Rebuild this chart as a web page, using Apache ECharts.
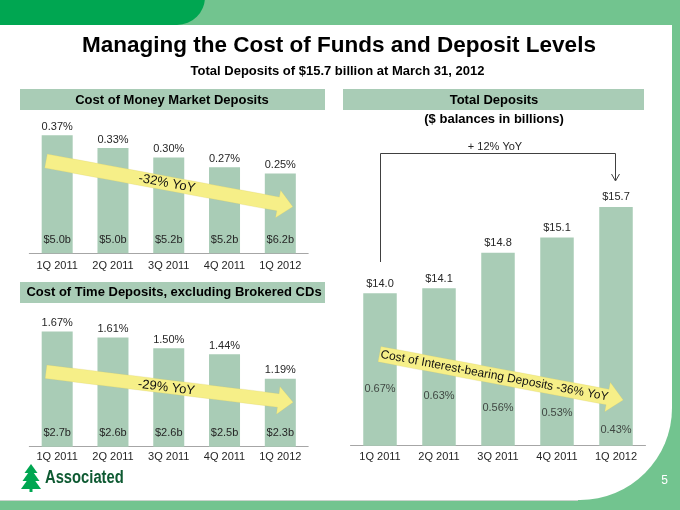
<!DOCTYPE html>
<html><head><meta charset="utf-8">
<script src="https://cdn.jsdelivr.net/npm/echarts@6/dist/echarts.min.js"></script>
<style>html,body{margin:0;padding:0;background:#fff}#c{width:680px;height:510px}</style>
</head><body><div id="c"></div><script>
const quarters = ['1Q 2011','2Q 2011','3Q 2011','4Q 2011','1Q 2012'];
const mmCost = [0.37,0.33,0.30,0.27,0.25];
const mmBalance = [5.0,5.0,5.2,5.2,6.2];
const tdCost = [1.67,1.61,1.50,1.44,1.19];
const tdBalance = [2.7,2.6,2.6,2.5,2.3];
const totalDeposits = [14.0,14.1,14.8,15.1,15.7];
const ibCost = [0.67,0.63,0.56,0.53,0.43];

const FONT = '"Liberation Sans", Arial, sans-serif';
const BAR = '#A9CCB6';
const BAND = '#A9CCB6';
const YEL = '#F6EF88';
const TXT = '#262626';

const chart = echarts.init(document.getElementById('c'), null, {renderer:'canvas'});

function xAx(gi, margin){
  return {type:'category', gridIndex:gi, data:quarters,
    axisLine:{lineStyle:{color:'#A6A6A6', width:1}}, axisTick:{show:false},
    axisLabel:{color:TXT, fontSize:11, fontFamily:FONT, margin:margin}};
}
function yAx(gi, min, max){
  return {type:'value', gridIndex:gi, min:min, max:max, show:false, splitLine:{show:false}};
}

function arrow(x, y, ang, L, hw, headW, headL, text, tx, ty, fs){
  return {type:'group', x:x, y:y, rotation:-ang, z:20, children:[
    {type:'polygon', shape:{points:[[0,-hw],[L-headL,-hw],[L-headL,-headW],[L,0],[L-headL,headW],[L-headL,hw],[0,hw]]},
     style:{fill:YEL, stroke:'rgba(200,190,90,0.35)', lineWidth:0.5}, z:20},
    {type:'text', x:tx, y:ty, z:21, style:{text:text, fill:'#111', font:fs+'px '+FONT, textAlign:'center', textVerticalAlign:'middle'}}
  ]};
}

const graphics = [
  // background
  {type:'rect', shape:{x:0,y:0,width:680,height:510}, style:{fill:'#72C48F'}, z:-20},
  {type:'rect', shape:{x:0,y:25,width:672,height:475,r:[0,0,92,0]}, style:{fill:'#ffffff'}, z:-19},
  {type:'line', shape:{x1:0,y1:500.5,x2:578,y2:500.5}, style:{stroke:'#C9D3CC', lineWidth:1}, z:-18},
  {type:'rect', shape:{x:-30,y:-30,width:235,height:55,r:[0,0,28,0]}, style:{fill:'#00A651'}, z:-18},
  // titles
  {type:'text', x:339, y:46, style:{text:'Managing the Cost of Funds and Deposit Levels', fill:'#000', font:'bold 22.5px '+FONT, textAlign:'center', textVerticalAlign:'middle'}},
  {type:'text', x:337.5, y:71, style:{text:'Total Deposits of $15.7 billion at March 31, 2012', fill:'#000', font:'bold 13px '+FONT, textAlign:'center', textVerticalAlign:'middle'}},
  // header bands
  {type:'rect', shape:{x:20,y:89,width:305,height:21}, style:{fill:BAND}, z:-5},
  {type:'text', x:172, y:100, style:{text:'Cost of Money Market Deposits', fill:'#000', font:'bold 13px '+FONT, textAlign:'center', textVerticalAlign:'middle'}},
  {type:'rect', shape:{x:343,y:89,width:301,height:21}, style:{fill:BAND}, z:-5},
  {type:'text', x:494, y:100, style:{text:'Total Deposits', fill:'#000', font:'bold 13px '+FONT, textAlign:'center', textVerticalAlign:'middle'}},
  {type:'text', x:494, y:119, style:{text:'($ balances in billions)', fill:'#000', font:'bold 13px '+FONT, textAlign:'center', textVerticalAlign:'middle'}},
  {type:'rect', shape:{x:20,y:282,width:305,height:21}, style:{fill:BAND}, z:-5},
  {type:'text', x:174, y:292.5, style:{text:'Cost of Time Deposits, excluding Brokered CDs', fill:'#000', font:'bold 13px '+FONT, textAlign:'center', textVerticalAlign:'middle'}},
  // YoY bracket
  {type:'polyline', shape:{points:[[380.5,262],[380.5,153.5],[615.5,153.5],[615.5,180]]}, style:{stroke:'#404040', lineWidth:1, fill:null}, z:10},
  {type:'polyline', shape:{points:[[611.5,174],[615.5,181],[619.5,174]]}, style:{stroke:'#404040', lineWidth:1, fill:null}, z:10},
  {type:'text', x:495, y:146.5, style:{text:'+ 12% YoY', fill:TXT, font:'11px '+FONT, textAlign:'center', textVerticalAlign:'middle'}},
  // arrows
  arrow(46,161,0.183,251,7,14,15,'-32% YoY',123,0,13),
  arrow(46,371.7,0.123,249,6.8,14,15,'-29% YoY',121.5,1,13),
  arrow(379.5,354.2,0.1857,248,7.8,15,16,'Cost of Interest-bearing Deposits -36% YoY',117,0,12),
  // logo
  {type:'polygon', shape:{points:[[31,464],[24.5,473],[37.5,473]]}, style:{fill:'#00A651'}},
  {type:'polygon', shape:{points:[[31,469],[22.5,481],[39.5,481]]}, style:{fill:'#00A651'}},
  {type:'polygon', shape:{points:[[31,475],[21,489],[41,489]]}, style:{fill:'#00A651'}},
  {type:'rect', shape:{x:29.5,y:487,width:3,height:5}, style:{fill:'#00A651'}},
  {type:'text', x:45, y:478.5, scaleX:0.82, style:{text:'Associated', fill:'#0E5A32', font:'bold 18px '+FONT, textAlign:'left', textVerticalAlign:'middle'}},
  {type:'text', x:664.5, y:481, style:{text:'5', fill:'#ffffff', font:'12px '+FONT, textAlign:'center', textVerticalAlign:'middle'}}
];

const lblTop = {show:true, position:'top', distance:3, color:TXT, fontSize:11, fontFamily:FONT};
const lblIn = {show:true, position:'insideBottom', distance:8, color:TXT, fontSize:11, fontFamily:FONT};

const option = {
  animation:false,
  grid:[
    {left:29.3, width:278.9, top:125.7, height:127.6},
    {left:29.3, width:278.9, top:318.7, height:128},
    {left:350.5, width:295, top:191.7, height:254}
  ],
  xAxis:[xAx(0,7), xAx(1,5), xAx(2,6)],
  yAxis:[yAx(0,0,0.4), yAx(1,0.5,1.8), yAx(2,11,16), yAx(2,0.334,1.839)],
  graphic:graphics,
  series:[
    {type:'bar', xAxisIndex:0, yAxisIndex:0, data:mmCost, barWidth:31, itemStyle:{color:BAR},
     label:Object.assign({}, lblTop, {formatter:p=>p.value.toFixed(2)+'%'})},
    {type:'bar', xAxisIndex:0, yAxisIndex:0, data:mmCost, barWidth:31, barGap:'-100%', silent:true, itemStyle:{color:'rgba(0,0,0,0)'},
     label:Object.assign({}, lblIn, {formatter:p=>'$'+mmBalance[p.dataIndex].toFixed(1)+'b'})},
    {type:'bar', xAxisIndex:1, yAxisIndex:1, data:tdCost, barWidth:31, itemStyle:{color:BAR},
     label:Object.assign({}, lblTop, {formatter:p=>p.value.toFixed(2)+'%'})},
    {type:'bar', xAxisIndex:1, yAxisIndex:1, data:tdCost, barWidth:31, barGap:'-100%', silent:true, itemStyle:{color:'rgba(0,0,0,0)'},
     label:Object.assign({}, lblIn, {formatter:p=>'$'+tdBalance[p.dataIndex].toFixed(1)+'b'})},
    {type:'bar', xAxisIndex:2, yAxisIndex:2, data:totalDeposits, barWidth:33.5, itemStyle:{color:BAR},
     label:Object.assign({}, lblTop, {distance:4, formatter:p=>'$'+p.value.toFixed(1)})},
    {type:'scatter', xAxisIndex:2, yAxisIndex:3, data:ibCost, symbolSize:0, silent:true, z:5,
     label:{show:true, position:'inside', color:TXT, fontSize:11, fontFamily:FONT, formatter:p=>p.value.toFixed(2)+'%'}}
  ]
};
chart.setOption(option);
</script></body></html>
